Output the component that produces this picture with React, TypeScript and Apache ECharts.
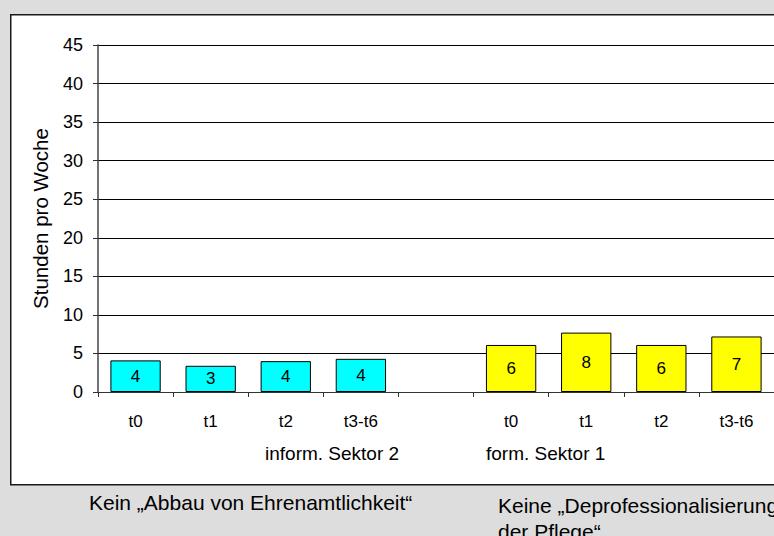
import React, { useEffect, useRef } from "react";
import * as echarts from "echarts";

const categories = ["t0", "t1", "t2", "t3-t6", "", "t0", "t1", "t2", "t3-t6"];
const informValues = [4.1, 3.4, 4.0, 4.3];
const formValues = [6.1, 7.7, 6.1, 7.2];
const groupLabels = ["inform. Sektor 2", "form. Sektor 1"];
const captionLeft = "Kein \u201EAbbau von Ehrenamtlichkeit\u201C";
const captionRight = "Keine \u201EDeprofessionalisierung\nder Pflege\u201C";
const yAxisTitle = "Stunden pro Woche";

const FONT = "'Liberation Sans', Arial, Helvetica, sans-serif";

export default function App() {
  const ref = useRef<HTMLDivElement>(null);
  useEffect(() => {
    if (!ref.current) return;
    const chart = echarts.init(ref.current, undefined, { renderer: "svg" });
    const data: any[] = [
      ...informValues.map((v) => ({ value: v, itemStyle: { color: "#00FFFF" } })),
      "-",
      ...formValues.map((v) => ({ value: v, itemStyle: { color: "#FFFF00" } })),
    ];
    chart.setOption({
      animation: false,
      backgroundColor: "#dddddd",
      textStyle: { fontFamily: FONT },
      grid: { left: 98, top: 45, bottom: 144, right: -2.4, containLabel: false },
      xAxis: {
        type: "category",
        data: categories,
        boundaryGap: true,
        axisLine: { show: true, lineStyle: { color: "#333", width: 1 } },
        axisTick: { show: true, interval: 0, length: 5, lineStyle: { color: "#333" } },
        axisLabel: { interval: 0, margin: 21, fontSize: 17, color: "#000", fontFamily: FONT },
        splitLine: { show: false },
      },
      yAxis: {
        type: "value",
        min: 0,
        max: 45,
        interval: 5,
        name: yAxisTitle,
        nameLocation: "middle",
        nameGap: 47,
        nameRotate: 90,
        nameTextStyle: { fontSize: 20.5, color: "#000", fontFamily: FONT },
        axisLine: { show: true, lineStyle: { color: "#444", width: 1.5 } },
        axisTick: { show: true, length: 5, lineStyle: { color: "#333" } },
        axisLabel: { margin: 15, fontSize: 18, color: "#000", fontFamily: FONT },
        splitLine: { show: true, lineStyle: { color: "#000", width: 1 } },
      },
      series: [
        {
          type: "bar",
          data,
          barCategoryGap: "33%",
          itemStyle: { borderColor: "#000", borderWidth: 1 },
          label: {
            show: true,
            position: "inside",
            fontSize: 17,
            color: "#000",
            fontFamily: FONT,
            formatter: (p: any) => String(Math.round(p.value)),
          },
        },
      ],
      graphic: [
        {
          type: "rect",
          z: -10,
          shape: { x: 10.75, y: 14.75, width: 800, height: 470 },
          style: { fill: "#ffffff", stroke: "#1a1a1a", lineWidth: 1.5 },
        },
        {
          type: "text",
          left: 265,
          top: 444,
          style: { text: groupLabels[0], fontSize: 19, fill: "#000", fontFamily: FONT },
        },
        {
          type: "text",
          left: 486,
          top: 444,
          style: { text: groupLabels[1], fontSize: 19, fill: "#000", fontFamily: FONT },
        },
        {
          type: "text",
          left: 89,
          top: 492,
          style: { text: captionLeft, fontSize: 21, fill: "#000", fontFamily: FONT },
        },
        {
          type: "text",
          left: 498,
          top: 492,
          style: { text: captionRight, fontSize: 21, lineHeight: 26, fill: "#000", fontFamily: FONT },
        },
      ],
    });
    return () => chart.dispose();
  }, []);
  return (
    <div
      ref={ref}
      style={{ position: "fixed", left: 0, top: 0, width: 774, height: 536 }}
    />
  );
}
